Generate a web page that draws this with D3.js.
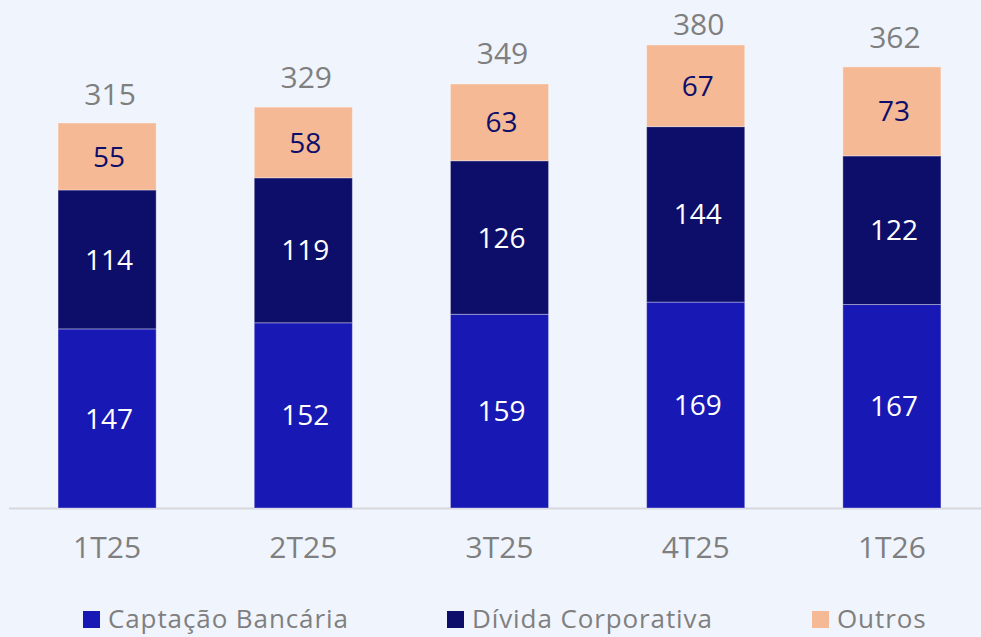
<!DOCTYPE html>
<html>
<head>
<meta charset="utf-8">
<script src="https://cdn.jsdelivr.net/npm/d3@7"></script>
<style>
  html, body { margin: 0; padding: 0; background: #f0f4fd; }
  svg { display: block; font-family: "Open Sans", sans-serif; }
</style>
</head>
<body>
<script>
// Chart data
const quarters = ["1T25", "2T25", "3T25", "4T25", "1T26"];
const captacao = [147, 152, 159, 169, 167];
const divida = [114, 119, 126, 144, 122];
const outros = [55, 58, 63, 67, 73];
const totals = [315, 329, 349, 380, 362];
const seriesNames = ["Captação Bancária", "Dívida Corporativa", "Outros"];

// Sizes
const w = 981;
const h = 637;
const base = 508;

// Colors
const blue = "#1818b4";
const navy = "#0d0d6a";
const peach = "#f5b995";
const gray = "#7f7f7f";
const colors = [blue, navy, peach];
const labelColors = ["#ffffff", "#ffffff", navy];

const rows = quarters.map((q, i) => ({q: q, a: captacao[i], b: divida[i], c: outros[i], total: totals[i]}));
const stack = d3.stack().keys(["a", "b", "c"])(rows);

const xScale = d3.scaleBand()
                 .domain(quarters)
                 .range([9, 990])
                 .paddingInner(0.5)
                 .paddingOuter(0.25);

const yScale = d3.scaleLinear()
                 .domain([0, 380])
                 .range([base, base - 463]);

const svg = d3.select("body")
              .append("svg")
              .attr("width", w)
              .attr("height", h);

// baseline
svg.append("line")
   .attr("x1", 9)
   .attr("x2", w)
   .attr("y1", base + 0.5)
   .attr("y2", base + 0.5)
   .attr("stroke", "#d6d8de")
   .attr("stroke-width", 2);

// Stacked bars
const layers = svg.selectAll("g.layer")
                  .data(stack)
                  .enter()
                  .append("g")
                  .attr("class", "layer");

layers.selectAll("rect")
      .data((d, k) => d.map(p => ({p: p, k: k})))
      .enter()
      .append("rect")
      .attr("x", d => xScale(d.p.data.q))
      .attr("y", d => yScale(d.p[1]))
      .attr("width", xScale.bandwidth())
      .attr("height", d => yScale(d.p[0]) - yScale(d.p[1]))
      .attr("fill", d => colors[d.k])
      .attr("stroke", "rgba(255,255,255,0.35)")
      .attr("stroke-width", 1);

// Values inside segments
layers.selectAll("text")
      .data((d, k) => d.map(p => ({p: p, k: k})))
      .enter()
      .append("text")
      .attr("x", d => xScale(d.p.data.q) + xScale.bandwidth() / 2 + 2)
      .attr("y", d => (yScale(d.p[0]) + yScale(d.p[1])) / 2)
      .attr("dy", "0.36em")
      .attr("text-anchor", "middle")
      .attr("font-size", 28)
      .attr("fill", d => labelColors[d.k])
      .text(d => d.p[1] - d.p[0]);

// Totals (kept inside the top edge)
svg.selectAll("text.total")
   .data(rows)
   .enter()
   .append("text")
   .attr("class", "total")
   .attr("x", d => xScale(d.q) + xScale.bandwidth() / 2 + 3)
   .attr("y", d => Math.max(yScale(d.total) - 19, 35))
   .attr("text-anchor", "middle")
   .attr("font-size", 30)
   .attr("fill", gray)
   .text(d => d.total);

// X axis labels
svg.selectAll("text.xlab")
   .data(quarters)
   .enter()
   .append("text")
   .attr("class", "xlab")
   .attr("x", d => xScale(d) + xScale.bandwidth() / 2)
   .attr("y", 558)
   .attr("text-anchor", "middle")
   .attr("font-size", 30)
   .attr("fill", gray)
   .text(d => d);

// Legend
const legendX = [83, 447, 812];
const legend = svg.selectAll("g.legend")
                  .data(seriesNames)
                  .enter()
                  .append("g")
                  .attr("class", "legend")
                  .attr("transform", (d, i) => "translate(" + legendX[i] + ",611)");

legend.append("rect")
      .attr("width", 17)
      .attr("height", 17)
      .attr("fill", (d, i) => colors[i]);

legend.append("text")
      .attr("x", 25)
      .attr("y", 17)
      .attr("font-size", 26)
      .attr("letter-spacing", 0.9)
      .attr("fill", gray)
      .text(d => d);
</script>
</body>
</html>
